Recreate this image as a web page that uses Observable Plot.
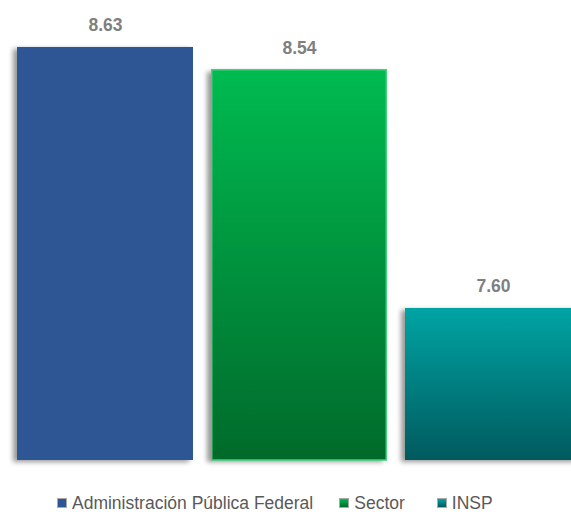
<!DOCTYPE html>
<html>
<head>
<meta charset="utf-8">
<script src="https://cdn.jsdelivr.net/npm/d3@7"></script>
<script src="https://cdn.jsdelivr.net/npm/@observablehq/plot@0.6"></script>
<style>
  html, body { margin: 0; padding: 0; background: #fff; }
  body { width: 571px; font-family: "Liberation Sans", Arial, sans-serif; }
  .legend { display: flex; align-items: flex-start; margin-left: 57px; margin-top: 5px; height: 20px; line-height: 20px; font-size: 17.5px; color: #595959; }
  .legend .item { display: flex; align-items: flex-start; }
  .legend .sw { width: 10px; height: 10px; margin-top: 5px; margin-right: 5px; box-sizing: border-box; }
</style>
</head>
<body>
<div id="chart"></div>
<script>
const categories = ["Administración Pública Federal", "Sector", "INSP"];
const values = [8.63, 8.54, 7.60];

const data = categories.map((c, i) => ({category: c, value: values[i]}));

const fills = ["#2e5594", "url(#gSector)", "url(#gInsp)"];

const plot = Plot.plot({
  width: 571,
  height: 488,
  margin: 0,
  style: {fontFamily: "'Liberation Sans', Arial, sans-serif", background: "white", overflow: "hidden"},
  x: {domain: categories, range: [16, 581], paddingInner: 0.095, paddingOuter: 0, axis: null},
  y: {domain: [7, 9], range: [460, 460 - 2 * 253.4], axis: null},
  color: {domain: categories, range: fills},
  marks: [
    Plot.barY(data, {x: "category", y1: 7, y2: "value", fill: "category"}),
    Plot.barY(data, {filter: d => d.category === "Sector", x: "category", y1: 7, y2: "value", fill: "none", stroke: "#3fd27a", strokeWidth: 1.5, insetLeft: 0.75, insetRight: 0.75}),
    Plot.text(data, {x: "category", y: "value", text: d => d.value.toFixed(2), dy: -22, fontSize: 17.5, fontWeight: "bold", fill: "#7f7f7f"})
  ]
});

const svg = d3.select(plot);
const defs = svg.insert("defs", ":first-child");
function grad(id, top, bottom) {
  const g = defs.append("linearGradient").attr("id", id).attr("x1", 0).attr("y1", 0).attr("x2", 0).attr("y2", 1);
  g.append("stop").attr("offset", "0%").attr("stop-color", top);
  g.append("stop").attr("offset", "100%").attr("stop-color", bottom);
}
grad("gSector", "#00bb50", "#006a2b");
grad("gInsp", "#00a4a4", "#005a5d");
const f = defs.append("filter").attr("id", "shadow").attr("x", "-20%").attr("y", "-20%").attr("width", "140%").attr("height", "140%");
f.append("feDropShadow").attr("dx", -4).attr("dy", 2).attr("stdDeviation", 2.5).attr("flood-color", "#000").attr("flood-opacity", 0.4);
svg.select("g[aria-label='bar']").attr("filter", "url(#shadow)");

document.getElementById("chart").appendChild(plot);

// legend
const legendFills = ["#2e5594", "linear-gradient(#00bb50, #006a2b)", "linear-gradient(#00a4a4, #005a5d)"];
const legendGaps = [0, 26, 32];
const legend = d3.select("body").append("div").attr("class", "legend");
categories.forEach((c, i) => {
  const it = legend.append("div").attr("class", "item").style("margin-left", legendGaps[i] + "px");
  it.append("div").attr("class", "sw").style("background", legendFills[i]).style("border", "1px solid #aaa");
  it.append("span").text(c);
});
</script>
</body>
</html>
